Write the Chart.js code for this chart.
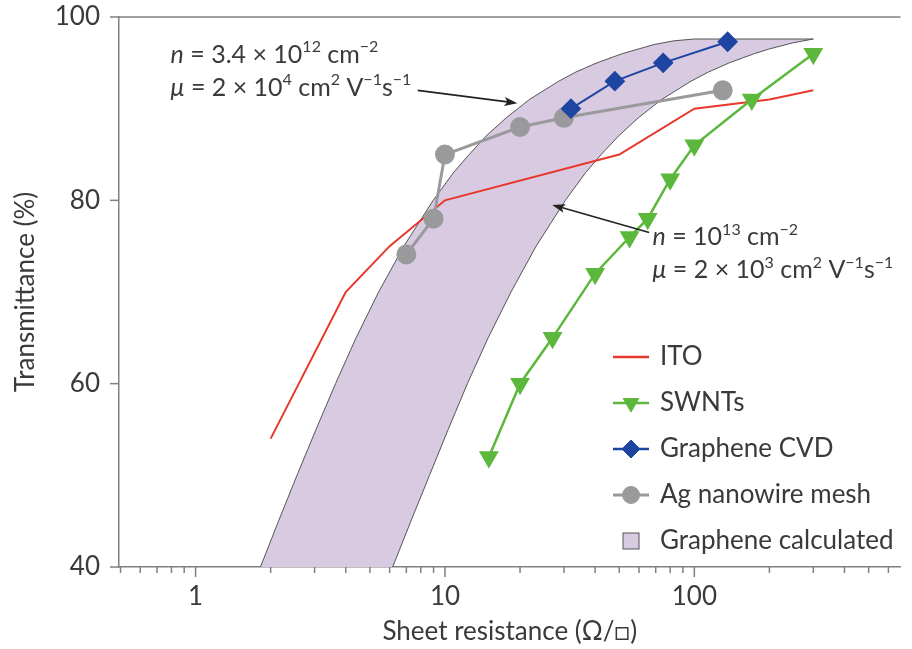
<!DOCTYPE html>
<html>
<head>
<meta charset="utf-8">
<script src="https://cdn.jsdelivr.net/npm/chart.js@4.4.1/dist/chart.umd.min.js"></script>
<style>
html, body { margin: 0; padding: 0; background: #fff; overflow: hidden; }
</style>
</head>
<body>
<canvas id="transChart" width="912" height="649"></canvas>
<script>
// tick values
var xTicks = [0.5, 0.6, 0.7, 0.8, 0.9, 1, 2, 3, 4, 5, 6, 7, 8, 9, 10, 20, 30, 40, 50, 60, 70, 80, 90, 100, 200, 300, 400, 500, 600];
var xLabels = [1, 10, 100];
var yTicks = [40, 60, 80, 100];

// ITO
var itoR = [2, 4, 6, 10, 50, 100, 200, 300];
var itoT = [54, 70, 75, 80, 85, 90, 91, 92];
// SWNTs
var swntR = [15, 20, 27, 40, 55, 65, 80, 100, 170, 300];
var swntT = [52, 60, 65, 72, 76, 78, 82.3, 86, 91, 96];
// Graphene CVD
var cvdR = [32, 48, 75, 136];
var cvdT = [90, 93, 95, 97.3];
// Ag nanowire mesh
var agR = [7, 9, 10, 20, 30, 130];
var agT = [74.1, 78, 85, 88, 89, 92];
// Graphene calculated band: upper-left edge (n = 3.4e12, mu = 2e4) then lower-right edge (n = 1e13, mu = 2e3)
var calcLeftR = [1.82, 2.15, 2.55, 3.04, 3.64, 4.4, 5.42, 6.84, 8.97, 10.8, 12.5, 14.6, 17.6, 21.8, 28.6, 33.5, 40.7, 51.4, 69, 82.7, 100, 300];
var calcLeftT = [40, 45, 50, 55, 60, 65, 70, 75, 80, 83, 85, 87, 89, 91, 93, 94, 95, 96, 97, 97.4, 97.6, 97.6];
var calcRightR = [250, 199, 174, 138, 114, 97, 73.9, 59.6, 49.6, 42.3, 36.6, 30.4, 23.2, 18.4, 14.9, 12.3, 10.3, 8.67, 7.3, 6.17];
var calcRightT = [97.2, 96.5, 96, 95, 94, 93, 91, 89, 87, 85, 83, 80, 75, 70, 65, 60, 55, 50, 45, 40];

var textColor = '#3a3a3a';
var axisColor = '#808080';
var fontFam = 'Lato, "Open Sans", sans-serif';
var clear = 'rgba(0,0,0,0)';

function pts(xs, ys) {
  return xs.map(function(v, i) { return {x: v, y: ys[i]}; });
}

var calcPts = pts(calcLeftR, calcLeftT).concat(pts(calcRightR, calcRightT));

var colors = {
  ito: '#e8382c',
  swnt: '#5cb83c',
  cvd: '#1e45a1',
  ag: '#9a9a9c',
  calc: '#d8cae1',
  calcLine: '#555555'
};

function drawRich(ctx, x, y, parts, size) {
  parts.forEach(function(p) {
    var fs = p.sup ? Math.round(size * 0.62) : size;
    ctx.font = (p.it ? 'italic ' : '') + fs + 'px ' + fontFam;
    var dy = p.sup ? -size * 0.42 : 0;
    ctx.fillText(p.t, x, y + dy);
    x += ctx.measureText(p.t).width;
  });
}

function arrow(ctx, x1, y1, x2, y2) {
  var ang = Math.atan2(y2 - y1, x2 - x1);
  ctx.beginPath();
  ctx.moveTo(x1, y1);
  ctx.lineTo(x2 - Math.cos(ang) * 8, y2 - Math.sin(ang) * 8);
  ctx.stroke();
  ctx.beginPath();
  ctx.moveTo(x2, y2);
  ctx.lineTo(x2 - Math.cos(ang) * 13 + Math.sin(ang) * 4.5, y2 - Math.sin(ang) * 13 - Math.cos(ang) * 4.5);
  ctx.lineTo(x2 - Math.cos(ang) * 10, y2 - Math.sin(ang) * 10);
  ctx.lineTo(x2 - Math.cos(ang) * 13 - Math.sin(ang) * 4.5, y2 - Math.sin(ang) * 13 + Math.cos(ang) * 4.5);
  ctx.closePath();
  ctx.fill();
}

var notes = [
  { x: 0.794, y: 95.0, lines: [
    [{t: 'n', it: true}, {t: ' = 3.4 × 10'}, {t: '12', sup: true}, {t: ' cm'}, {t: '−2', sup: true}],
    [{t: 'μ', it: true}, {t: ' = 2 × 10'}, {t: '4', sup: true}, {t: ' cm'}, {t: '2', sup: true}, {t: ' V'}, {t: '−1', sup: true}, {t: 's'}, {t: '−1', sup: true}]
  ], from: [7.78, 92.0], to: [19.5, 90.6] },
  { x: 68, y: 75.1, lines: [
    [{t: 'n', it: true}, {t: ' = 10'}, {t: '13', sup: true}, {t: ' cm'}, {t: '−2', sup: true}],
    [{t: 'μ', it: true}, {t: ' = 2 × 10'}, {t: '3', sup: true}, {t: ' cm'}, {t: '2', sup: true}, {t: ' V'}, {t: '−1', sup: true}, {t: 's'}, {t: '−1', sup: true}]
  ], from: [65.9, 76.5], to: [26.9, 79.5] }
];

var legendItems = [
  {label: 'ITO', color: colors.ito, marker: null},
  {label: 'SWNTs', color: colors.swnt, marker: 'tri'},
  {label: 'Graphene CVD', color: colors.cvd, marker: 'diamond'},
  {label: 'Ag nanowire mesh', color: colors.ag, marker: 'circle'},
  {label: 'Graphene calculated', color: colors.calc, marker: 'box'}
];

var decor = {
  id: 'decor',
  afterDraw: function(chart) {
    var ctx = chart.ctx, a = chart.chartArea;
    var xs = chart.scales.x, ys = chart.scales.y;
    ctx.save();
    ctx.strokeStyle = axisColor;
    ctx.lineWidth = 1.5;
    ctx.beginPath();
    ctx.moveTo(a.left, a.top);
    ctx.lineTo(a.right, a.top);
    ctx.stroke();
    // x ticks
    xTicks.forEach(function(v) {
      var px = xs.getPixelForValue(v);
      var len = xLabels.indexOf(v) >= 0 ? 10 : 6;
      ctx.beginPath();
      ctx.moveTo(px, a.bottom);
      ctx.lineTo(px, a.bottom + len);
      ctx.stroke();
    });
    // y ticks
    yTicks.forEach(function(v) {
      var py = ys.getPixelForValue(v);
      ctx.beginPath();
      ctx.moveTo(a.left - 9, py);
      ctx.lineTo(a.left, py);
      ctx.stroke();
    });

    // annotations
    ctx.fillStyle = textColor;
    ctx.textBaseline = 'alphabetic';
    ctx.textAlign = 'left';
    notes.forEach(function(n) {
      var nx = xs.getPixelForValue(n.x), ny = ys.getPixelForValue(n.y);
      n.lines.forEach(function(line, i) {
        drawRich(ctx, nx, ny + i * 33, line, 25);
      });
      ctx.strokeStyle = '#222';
      ctx.fillStyle = '#222';
      ctx.lineWidth = 1.6;
      arrow(ctx, xs.getPixelForValue(n.from[0]), ys.getPixelForValue(n.from[1]),
        xs.getPixelForValue(n.to[0]), ys.getPixelForValue(n.to[1]));
      ctx.fillStyle = textColor;
    });

    // legend
    var lx = 613, lw = 36, ly = 357, step = 46;
    legendItems.forEach(function(it, i) {
      var y = ly + i * step, cx = lx + lw / 2;
      if (it.marker === 'box') {
        ctx.fillStyle = it.color;
        ctx.fillRect(cx - 8, y - 8, 16, 16);
        ctx.strokeStyle = colors.calcLine;
        ctx.lineWidth = 1;
        ctx.strokeRect(cx - 8, y - 8, 16, 16);
      } else {
        ctx.strokeStyle = it.color;
        ctx.lineWidth = it.marker === 'circle' ? 3 : 2.5;
        ctx.beginPath();
        ctx.moveTo(lx, y);
        ctx.lineTo(lx + lw, y);
        ctx.stroke();
        if (it.marker) {
          var style = {tri: 'triangle', diamond: 'rectRot', circle: 'circle'}[it.marker];
          ctx.fillStyle = it.color;
          ctx.strokeStyle = it.color;
          ctx.lineWidth = 1;
          Chart.helpers.drawPoint(ctx, {pointStyle: style, radius: it.marker === 'circle' ? 8.5 : 9, rotation: it.marker === 'tri' ? 180 : 0, borderWidth: 1}, cx, y);
        }
      }
      ctx.fillStyle = textColor;
      ctx.font = '26px ' + fontFam;
      ctx.textBaseline = 'middle';
      ctx.fillText(it.label, 660, y);
    });
    ctx.restore();
  }
};

var chart = new Chart(document.getElementById('transChart'), {
  type: 'scatter',
  data: {
    datasets: [
      {
        label: 'Graphene CVD',
        data: pts(cvdR, cvdT),
        showLine: true,
        borderColor: colors.cvd,
        backgroundColor: colors.cvd,
        borderWidth: 2,
        pointStyle: 'rectRot',
        pointRadius: 9,
        order: 0
      },
      {
        label: 'Ag nanowire mesh',
        data: pts(agR, agT),
        showLine: true,
        borderColor: colors.ag,
        backgroundColor: colors.ag,
        borderWidth: 3,
        pointStyle: 'circle',
        pointRadius: 8.5,
        order: 1
      },
      {
        label: 'SWNTs',
        data: pts(swntR, swntT),
        showLine: true,
        borderColor: colors.swnt,
        backgroundColor: colors.swnt,
        borderWidth: 2.5,
        pointStyle: 'triangle',
        rotation: 180,
        pointRadius: 9,
        order: 2
      },
      {
        label: 'ITO',
        data: pts(itoR, itoT),
        showLine: true,
        borderColor: colors.ito,
        borderWidth: 2,
        pointRadius: 0,
        order: 3
      },
      {
        label: 'Graphene calculated',
        data: calcPts,
        showLine: true,
        fill: 'shape',
        backgroundColor: colors.calc,
        borderColor: colors.calcLine,
        borderWidth: 1,
        pointRadius: 0,
        order: 4
      }
    ]
  },
  options: {
    responsive: false,
    animation: false,
    devicePixelRatio: 1,
    layout: { padding: { top: 17, right: 0, left: 0, bottom: 0 } },
    plugins: {
      legend: { display: false },
      tooltip: { enabled: false }
    },
    scales: {
      x: {
        type: 'logarithmic',
        min: 0.493,
        max: 671,
        afterBuildTicks: function(s) { s.ticks = xLabels.map(function(v) { return {value: v}; }); },
        afterFit: function(s) { s.height = 82; },
        grid: { display: true, drawOnChartArea: false, drawTicks: true, tickLength: 14, tickColor: clear, color: clear },
        border: { display: true, color: axisColor, width: 1.5 },
        ticks: {
          padding: 0,
          color: textColor,
          autoSkip: false,
          maxRotation: 0,
          font: { family: fontFam, size: 26 },
          callback: function(v) { return String(v); }
        },
        title: {
          display: true,
          text: 'Sheet resistance (Ω/□)',
          color: textColor,
          font: { family: fontFam, size: 26 },
          padding: { top: 0, bottom: 2 }
        }
      },
      y: {
        min: 40,
        max: 100,
        afterBuildTicks: function(s) { s.ticks = yTicks.map(function(v) { return {value: v}; }); },
        afterFit: function(s) { s.width = 119; },
        grid: { display: true, drawOnChartArea: false, drawTicks: true, tickLength: 19, tickColor: clear, color: clear },
        border: { display: true, color: axisColor, width: 1.5 },
        ticks: {
          padding: 0,
          color: textColor,
          font: { family: fontFam, size: 26 }
        },
        title: {
          display: true,
          text: 'Transmittance (%)',
          color: textColor,
          font: { family: fontFam, size: 26 },
          padding: { top: 10, bottom: 0 }
        }
      }
    }
  },
  plugins: [decor]
});
</script>
</body>
</html>
